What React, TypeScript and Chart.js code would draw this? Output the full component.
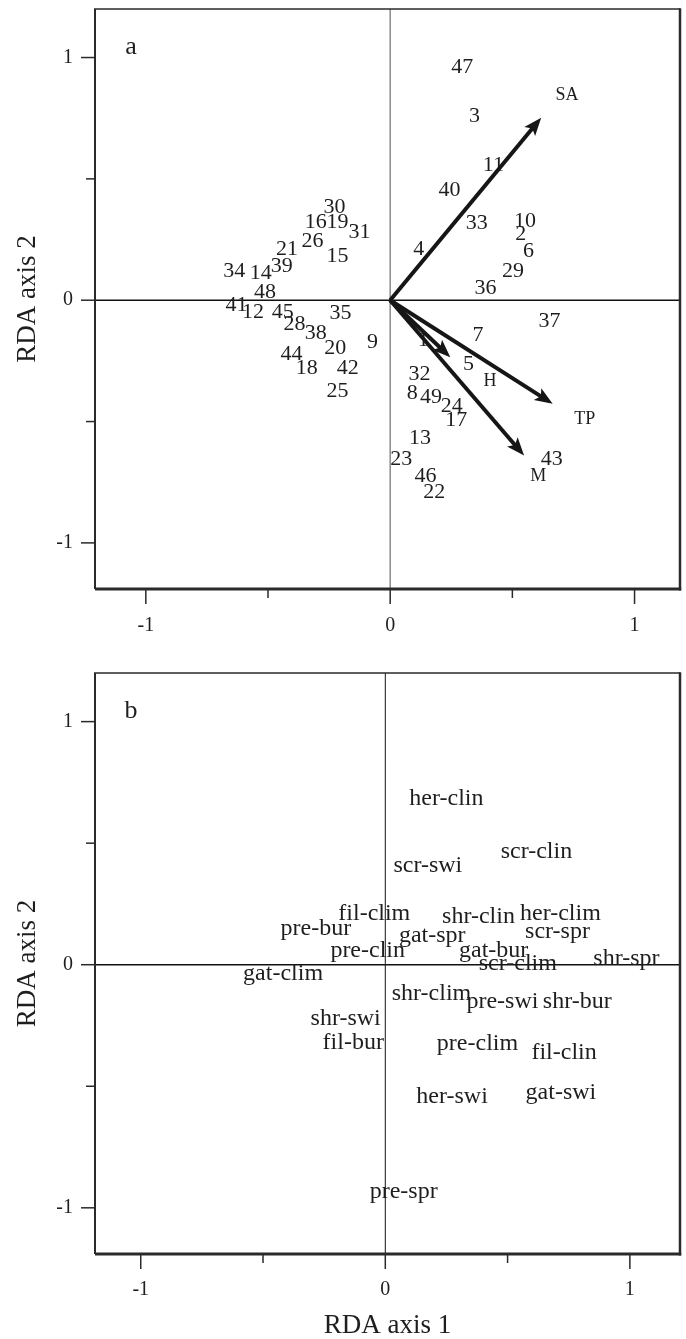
import React, { useEffect, useRef } from 'react';
import { Chart, registerables } from 'chart.js';

Chart.register(...registerables);

const FONT = "'Liberation Serif', 'Times New Roman', serif";
const INK = '#1e1e1e';

// ---------- Panel a: site scores ----------
const siteLabels = ['47', '3', '11', '40', '30', '16', '19', '31', '33', '10', '2', '6', '26', '21', '4', '15', '29', '34', '14', '39', '36', '48', '41', '12', '45', '35', '37', '28', '38', '7', '9', '1', '20', '44', '5', '18', '42', '32', '25', '8', '49', '24', '17', '13', '23', '43', '46', '22'];
const siteX = [0.295, 0.345, 0.422, 0.243, -0.228, -0.305, -0.216, -0.126, 0.354, 0.552, 0.534, 0.566, -0.318, -0.422, 0.117, -0.216, 0.503, -0.638, -0.53, -0.444, 0.39, -0.512, -0.629, -0.561, -0.44, -0.203, 0.652, -0.392, -0.305, 0.359, -0.072, 0.135, -0.225, -0.404, 0.32, -0.341, -0.174, 0.12, -0.216, 0.09, 0.167, 0.252, 0.27, 0.122, 0.045, 0.661, 0.144, 0.18];
const siteY = [0.966, 0.764, 0.562, 0.457, 0.389, 0.327, 0.325, 0.284, 0.321, 0.33, 0.276, 0.207, 0.246, 0.216, 0.214, 0.184, 0.123, 0.123, 0.116, 0.143, 0.055, 0.038, -0.016, -0.044, -0.044, -0.048, -0.082, -0.094, -0.132, -0.139, -0.169, -0.159, -0.194, -0.219, -0.26, -0.277, -0.277, -0.302, -0.371, -0.381, -0.395, -0.432, -0.492, -0.565, -0.651, -0.651, -0.72, -0.787];

// ---------- Panel a: environmental vectors ----------
const envNames = ['SA', 'TP', 'M', 'H'];
const envTipX = [0.618, 0.665, 0.548, 0.246];
const envTipY = [0.752, -0.427, -0.64, -0.235];
const envLabelX = [0.724, 0.796, 0.606, 0.408];
const envLabelY = [0.85, -0.485, -0.723, -0.33];

// ---------- Panel b: species/feeding groups ----------
const speciesLabels = ['her-clin', 'scr-clin', 'scr-swi', 'fil-clim', 'shr-clin', 'her-clim', 'pre-bur', 'scr-spr', 'gat-spr', 'pre-clin', 'gat-bur', 'scr-clim', 'shr-spr', 'gat-clim', 'shr-clim', 'pre-swi', 'shr-bur', 'shr-swi', 'fil-bur', 'pre-clim', 'fil-clin', 'her-swi', 'gat-swi', 'pre-spr'];
const speciesX = [0.25, 0.618, 0.174, -0.045, 0.381, 0.716, -0.284, 0.704, 0.192, -0.072, 0.443, 0.542, 0.986, -0.418, 0.189, 0.479, 0.785, -0.162, -0.131, 0.377, 0.731, 0.273, 0.718, 0.075];
const speciesY = [0.688, 0.468, 0.412, 0.214, 0.2, 0.214, 0.154, 0.139, 0.123, 0.061, 0.061, 0.01, 0.027, -0.034, -0.115, -0.148, -0.148, -0.217, -0.318, -0.322, -0.357, -0.54, -0.522, -0.931];

const tickStep = 0.5;
const yTitle = 'RDA axis 2';
const xTitle = 'RDA axis 1';

interface PanelCfg {
  letter: string;
  top: number;
  canvasH: number;
  padTop: number;
  xAxisH: number;
  xMin: number;
  xMax: number;
  yMin: number;
  yMax: number;
  xTitle?: string;
  xTickPad: number;
  vZeroColor: string;
  vZeroWidth: number;
}

const isWhole = (v: number) => Math.abs(v - Math.round(v)) < 1e-9;

function drawHead(ctx: CanvasRenderingContext2D, x0: number, y0: number, x1: number, y1: number) {
  const ang = Math.atan2(y1 - y0, x1 - x0);
  const L = 18, W = 7, notch = 4;
  ctx.save();
  ctx.translate(x1, y1);
  ctx.rotate(ang);
  ctx.beginPath();
  ctx.moveTo(0, 0);
  ctx.lineTo(-L, -W);
  ctx.lineTo(-L + notch, 0);
  ctx.lineTo(-L, W);
  ctx.closePath();
  ctx.fill();
  ctx.restore();
}

function makeDecor(cfg: PanelCfg) {
  return {
    id: 'rdaDecor',
    beforeDatasetsDraw(chart: any) {
      const { ctx, chartArea: ca, scales } = chart;
      const x0 = scales.x.getPixelForValue(0);
      const y0 = scales.y.getPixelForValue(0);
      ctx.save();
      ctx.strokeStyle = cfg.vZeroColor;
      ctx.lineWidth = cfg.vZeroWidth;
      ctx.beginPath();
      ctx.moveTo(x0, ca.top);
      ctx.lineTo(x0, ca.bottom);
      ctx.stroke();
      ctx.strokeStyle = '#111';
      ctx.lineWidth = 1.5;
      ctx.beginPath();
      ctx.moveTo(ca.left, y0);
      ctx.lineTo(ca.right, y0);
      ctx.stroke();
      ctx.restore();
    },
    afterDatasetsDraw(chart: any) {
      const { ctx, scales } = chart;
      const ox = scales.x.getPixelForValue(0);
      const oy = scales.y.getPixelForValue(0);
      ctx.save();
      chart.data.datasets.forEach((ds: any, i: number) => {
        const meta = chart.getDatasetMeta(i);
        if (ds.textLabels) {
          ctx.fillStyle = INK;
          ctx.font = `${ds.textSize}px ${FONT}`;
          ctx.textAlign = 'center';
          ctx.textBaseline = 'middle';
          meta.data.forEach((el: any, j: number) => {
            ctx.fillText(ds.textLabels[j], el.x, el.y + 1);
          });
        }
      });
      chart.data.datasets.forEach((ds: any, i: number) => {
        const meta = chart.getDatasetMeta(i);
        if (ds.isArrow) {
          ctx.strokeStyle = '#161616';
          ctx.fillStyle = '#161616';
          ctx.lineWidth = 4;
          ctx.lineCap = 'butt';
          meta.data.forEach((el: any) => {
            const dx = el.x - ox, dy = el.y - oy;
            const len = Math.hypot(dx, dy);
            const sx = el.x - (dx / len) * 12;
            const sy = el.y - (dy / len) * 12;
            ctx.beginPath();
            ctx.moveTo(ox, oy);
            ctx.lineTo(sx, sy);
            ctx.stroke();
            drawHead(ctx, ox, oy, el.x, el.y);
          });
        }
      });
      ctx.restore();
    },
    afterDraw(chart: any) {
      const { ctx, chartArea: ca, scales } = chart;
      ctx.save();
      ctx.strokeStyle = '#2a2a2a';
      ctx.lineWidth = 1.5;
      scales.y.ticks.forEach((t: any) => {
        const py = scales.y.getPixelForValue(t.value);
        const len = isWhole(t.value) ? 14 : 9;
        ctx.beginPath();
        ctx.moveTo(ca.left - len, py);
        ctx.lineTo(ca.left, py);
        ctx.stroke();
      });
      scales.x.ticks.forEach((t: any) => {
        const px = scales.x.getPixelForValue(t.value);
        const len = isWhole(t.value) ? 15 : 9;
        ctx.beginPath();
        ctx.moveTo(px, ca.bottom);
        ctx.lineTo(px, ca.bottom + len);
        ctx.stroke();
      });
      // frame
      const line = (x1: number, y1: number, x2: number, y2: number, w: number) => {
        ctx.lineWidth = w;
        ctx.beginPath();
        ctx.moveTo(x1, y1);
        ctx.lineTo(x2, y2);
        ctx.stroke();
      };
      line(ca.left - 1, ca.top, ca.right, ca.top, 1.5);
      line(ca.left, ca.top, ca.left, ca.bottom, 2);
      line(ca.right, ca.top - 0.75, ca.right, ca.bottom + 1.5, 2.5);
      line(ca.left, ca.bottom, ca.right + 1.2, ca.bottom, 3);
      // panel letter
      ctx.fillStyle = INK;
      ctx.font = `26px ${FONT}`;
      ctx.textAlign = 'center';
      ctx.textBaseline = 'middle';
      ctx.fillText(cfg.letter, ca.left + 36, ca.top + 38);
      ctx.restore();
    },
  };
}

function Panel({ cfg, datasets }: { cfg: PanelCfg; datasets: any[] }) {
  const ref = useRef<HTMLCanvasElement>(null);
  useEffect(() => {
    const tickFont = { family: FONT, size: 20, lineHeight: 1 };
    const chart = new Chart(ref.current as HTMLCanvasElement, {
      type: 'scatter',
      data: { datasets },
      options: {
        responsive: false,
        animation: false,
        events: [],
        layout: { padding: { top: cfg.padTop, left: 0, right: 6, bottom: 0 } },
        plugins: {
          legend: { display: false },
          tooltip: { enabled: false },
        },
        scales: {
          x: {
            type: 'linear',
            position: 'bottom',
            min: cfg.xMin,
            max: cfg.xMax,
            grid: { display: false, drawTicks: true, tickLength: cfg.xTickPad },
            border: { display: false },
            ticks: {
              stepSize: tickStep,
              includeBounds: false,
              autoSkip: false,
              maxRotation: 0,
              padding: 0,
              color: INK,
              font: tickFont,
              callback: (v: any) => (isWhole(Number(v)) ? String(Math.round(Number(v))) : ''),
            },
            title: cfg.xTitle
              ? { display: true, text: cfg.xTitle, color: INK, font: { family: FONT, size: 27, lineHeight: 1 }, padding: { top: 0, bottom: 0 } }
              : { display: false },
            afterFit: (s: any) => {
              s.height = cfg.xAxisH;
            },
          },
          y: {
            type: 'linear',
            position: 'left',
            min: cfg.yMin,
            max: cfg.yMax,
            grid: { display: false, drawTicks: true, tickLength: 25 },
            border: { display: false },
            ticks: {
              stepSize: tickStep,
              includeBounds: false,
              autoSkip: false,
              padding: -3,
              color: INK,
              font: tickFont,
              callback: (v: any) => (isWhole(Number(v)) ? String(Math.round(Number(v))) : ''),
            },
            title: { display: true, text: yTitle, color: INK, font: { family: FONT, size: 27, lineHeight: 1.2 }, padding: { top: 12, bottom: 0 } },
            afterFit: (s: any) => {
              s.width = 95;
            },
          },
        },
      } as any,
      plugins: [makeDecor(cfg)],
    });
    return () => chart.destroy();
  }, []);
  return (
    <canvas
      ref={ref}
      width={686}
      height={cfg.canvasH}
      style={{ position: 'absolute', left: 0, top: cfg.top, width: 686, height: cfg.canvasH, display: 'block' }}
    />
  );
}

const cfgA: PanelCfg = {
  letter: 'a',
  top: 0,
  canvasH: 660,
  padTop: 9,
  xAxisH: 660 - 589,
  xMin: -1.208,
  xMax: 1.186,
  yMin: -1.19,
  yMax: 1.2,
  xTickPad: 27,
  vZeroColor: '#8a8a8a',
  vZeroWidth: 1.5,
};

const cfgB: PanelCfg = {
  letter: 'b',
  top: 660,
  canvasH: 679,
  padTop: 13,
  xAxisH: 679 - 594,
  xMin: -1.187,
  xMax: 1.205,
  yMin: -1.19,
  yMax: 1.2,
  xTitle: xTitle,
  xTickPad: 26,
  vZeroColor: '#111',
  vZeroWidth: 1,
};

const datasetsA = [
  {
    label: 'sites',
    data: siteX.map((x, i) => ({ x, y: siteY[i] })),
    pointRadius: 0,
    textLabels: siteLabels,
    textSize: 22,
  },
  {
    label: 'env labels',
    data: envLabelX.map((x, i) => ({ x, y: envLabelY[i] })),
    pointRadius: 0,
    textLabels: envNames,
    textSize: 18,
  },
  {
    label: 'env arrows',
    data: envTipX.map((x, i) => ({ x, y: envTipY[i] })),
    pointRadius: 0,
    isArrow: true,
  },
];

const datasetsB = [
  {
    label: 'species',
    data: speciesX.map((x, i) => ({ x, y: speciesY[i] })),
    pointRadius: 0,
    textLabels: speciesLabels,
    textSize: 24,
  },
];

export default function App() {
  return (
    <div style={{ position: 'absolute', left: 0, top: 0, width: 686, height: 1339, background: '#fff', overflow: 'hidden' }}>
      <Panel cfg={cfgA} datasets={datasetsA} />
      <Panel cfg={cfgB} datasets={datasetsB} />
    </div>
  );
}
